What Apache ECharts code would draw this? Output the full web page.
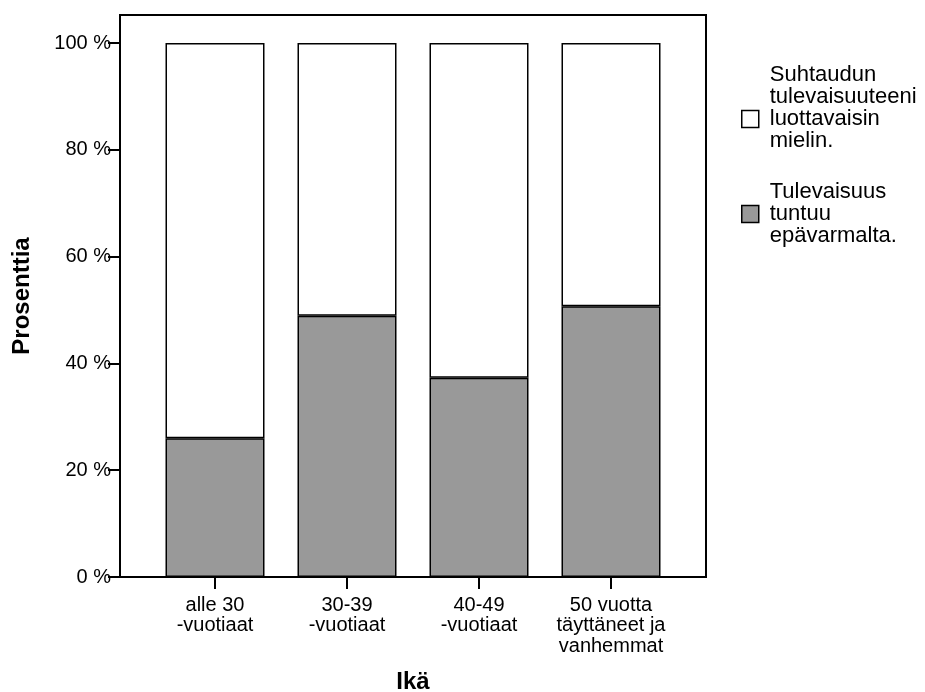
<!DOCTYPE html>
<html>
<head>
<meta charset="utf-8">
<script src="https://cdn.jsdelivr.net/npm/echarts@6/dist/echarts.min.js"></script>
<style>
  html, body { margin: 0; padding: 0; background: #fff; }
  #chart { width: 925px; height: 692px; }
</style>
</head>
<body>
<div id="chart"></div>
<script>
var categories = ['alle 30\n-vuotiaat', '30-39\n-vuotiaat', '40-49\n-vuotiaat', '50 vuotta\ntäyttäneet ja\nvanhemmat'];
var seriesNames = ['Suhtaudun\ntulevaisuuteeni\nluottavaisin\nmielin.', 'Tulevaisuus\ntuntuu\nepävarmalta.'];
var uncertain = [26.0, 48.9, 37.3, 50.7];
var confident = [74.0, 51.1, 62.7, 49.3];
var yTicks = [0, 20, 40, 60, 80, 100];

var FONT = '"Liberation Sans", Arial, sans-serif';
var chart = echarts.init(document.getElementById('chart'), null, { renderer: 'canvas' });

chart.setOption({
  backgroundColor: '#ffffff',
  animation: false,
  grid: { left: 149, right: 248, top: 43, bottom: 115, containLabel: false, outerBoundsMode: 'none' },
  legend: {
    orient: 'vertical',
    left: 736,
    top: 59,
    itemWidth: 17,
    itemHeight: 17,
    itemGap: 7,
    selectedMode: false,
    data: [
      { name: seriesNames[0], icon: 'rect', itemStyle: { color: '#ffffff', borderColor: '#000', borderWidth: 1.5 } },
      { name: seriesNames[1], icon: 'rect', itemStyle: { color: '#999999', borderColor: '#000', borderWidth: 1.5 } }
    ],
    formatter: function (name) {
      return name === seriesNames[0] ? name + '\n' : name;
    },
    textStyle: { fontFamily: FONT, fontSize: 22, color: '#000', lineHeight: 22, padding: [0, 0, 0, 6] }
  },
  xAxis: {
    type: 'category',
    data: categories,
    name: 'Ikä',
    nameLocation: 'middle',
    nameGap: 93,
    nameTextStyle: { fontFamily: FONT, fontSize: 24, fontWeight: 'bold', color: '#000' },
    axisLine: { show: false },
    axisTick: { show: true, alignWithLabel: true, length: 12, lineStyle: { color: '#000', width: 2 } },
    axisLabel: { fontFamily: FONT, fontSize: 20, color: '#000', lineHeight: 20.5, margin: 18, interval: 0 },
    splitLine: { show: false }
  },
  yAxis: {
    type: 'value',
    min: 0,
    max: 100,
    interval: 20,
    offset: 29,
    name: 'Prosenttia',
    nameLocation: 'middle',
    nameGap: 86,
    nameRotate: 90,
    nameTextStyle: { fontFamily: FONT, fontSize: 24, fontWeight: 'bold', color: '#000', padding: [0, 0, 0, 28] },
    axisLine: { show: false },
    axisTick: { show: true, length: 12, lineStyle: { color: '#000', width: 2 } },
    axisLabel: {
      fontFamily: FONT, fontSize: 20, color: '#000', margin: 9,
      formatter: function (v) { return yTicks.indexOf(v) >= 0 ? v + ' %' : ''; }
    },
    splitLine: { show: false }
  },
  series: [
    {
      name: seriesNames[1],
      type: 'bar',
      stack: 'total',
      barWidth: 99,
      data: uncertain,
      itemStyle: { color: '#999999', borderColor: '#000', borderWidth: 1.5 }
    },
    {
      name: seriesNames[0],
      type: 'bar',
      stack: 'total',
      barWidth: 99,
      data: confident,
      itemStyle: { color: '#ffffff', borderColor: '#000', borderWidth: 1.5 }
    }
  ],
  graphic: [
    {
      type: 'rect',
      z: 100,
      silent: true,
      shape: { x: 120, y: 15, width: 586, height: 562 },
      style: { fill: 'none', stroke: '#000', lineWidth: 2 }
    }
  ]
});
</script>
</body>
</html>
